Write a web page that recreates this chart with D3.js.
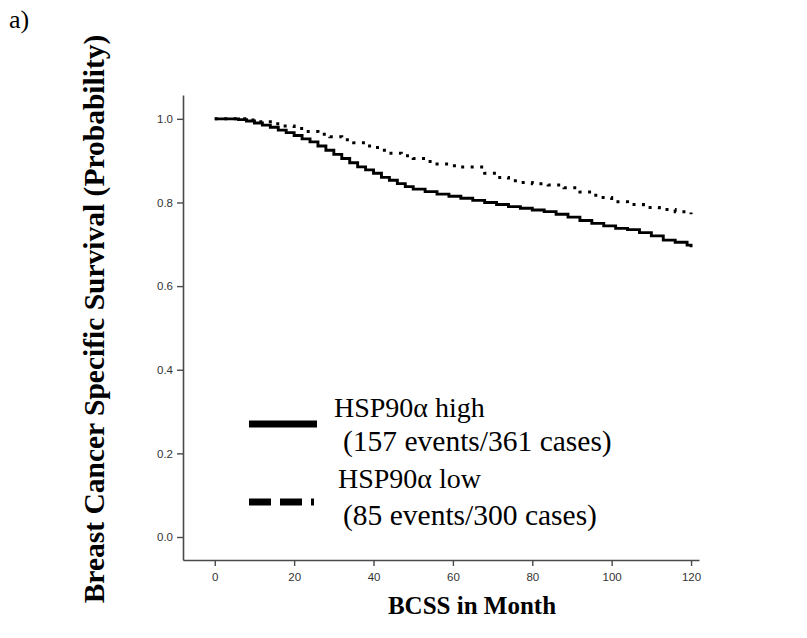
<!DOCTYPE html>
<html>
<head>
<meta charset="utf-8">
<script src="https://cdn.jsdelivr.net/npm/d3@7"></script>
<style>
  html, body { margin: 0; padding: 0; background: #fff; }
  svg { display: block; }
</style>
</head>
<body>
<svg id="chart" width="807" height="638"></svg>
<script>
// ---- data ----
const highTimes = [0, 3, 6, 8, 10, 12, 14, 16, 18, 20, 22, 24, 26, 28, 30, 32, 34, 36, 38, 40, 42, 44, 46, 48, 50, 53, 56, 59, 62, 65, 68, 71, 74, 77, 80, 83, 86, 89, 92, 95, 98, 101, 104, 107, 110, 113, 116, 119, 120];
const highSurv  = [1.0, 1.0, 0.998, 0.995, 0.99, 0.985, 0.98, 0.973, 0.967, 0.96, 0.952, 0.945, 0.935, 0.925, 0.915, 0.905, 0.895, 0.885, 0.878, 0.87, 0.86, 0.853, 0.845, 0.838, 0.832, 0.826, 0.82, 0.815, 0.81, 0.805, 0.8, 0.795, 0.79, 0.786, 0.782, 0.778, 0.772, 0.765, 0.757, 0.75, 0.744, 0.738, 0.735, 0.728, 0.72, 0.71, 0.705, 0.698, 0.693];
const lowTimes  = [0, 4, 8, 11, 14, 17, 20, 23, 26, 29, 32, 35, 38, 41, 44, 47, 50, 53, 56, 59, 62, 65, 68, 71, 74, 77, 80, 84, 88, 92, 96, 100, 104, 108, 112, 116, 120];
const lowSurv   = [1.0, 1.0, 0.997, 0.993, 0.988, 0.983, 0.977, 0.97, 0.963, 0.957, 0.95, 0.943, 0.935, 0.925, 0.918, 0.912, 0.905, 0.898, 0.892, 0.888, 0.885, 0.885, 0.87, 0.86, 0.852, 0.848, 0.845, 0.842, 0.835, 0.825, 0.812, 0.802, 0.795, 0.788, 0.783, 0.778, 0.772];
const xTicks = [0, 20, 40, 60, 80, 100, 120];
const yTicks = [0.0, 0.2, 0.4, 0.6, 0.8, 1.0];
const legendLabels = ["HSP90\u03b1 high", "(157 events/361 cases)", "HSP90\u03b1 low", "(85 events/300 cases)"];
const panelLabel = "a)";
const xTitle = "BCSS in Month";
const yTitle = "Breast Cancer Specific Survival (Probability)";

// ---- drawing ----
const svg = d3.select("#chart");
const x = d3.scaleLinear().domain([-8, 122]).range([183, 699]);
const y = d3.scaleLinear().domain([-0.055, 1.057]).range([560, 95]);

const axisColor = "#4a4a4a";

// y axis
const gy = svg.append("g").attr("transform", `translate(${x(-8)},0)`)
  .call(d3.axisLeft(y).tickValues(yTicks).tickFormat(d3.format(".1f")).tickSize(6).tickSizeOuter(0));
gy.select(".domain").attr("stroke", axisColor).attr("stroke-width", 1.6);
gy.selectAll(".tick line").attr("stroke", axisColor).attr("stroke-width", 1.4);
gy.selectAll(".tick text").attr("fill", "#333").attr("font-family", "Arial, 'Liberation Sans', sans-serif").attr("font-size", 11.5).attr("dx", "-1");

// x axis
const gx = svg.append("g").attr("transform", `translate(0,${y(-0.055)})`)
  .call(d3.axisBottom(x).tickValues(xTicks).tickFormat(d3.format("d")).tickSize(6).tickSizeOuter(0));
gx.select(".domain").attr("stroke", axisColor).attr("stroke-width", 1.6);
gx.selectAll(".tick line").attr("stroke", axisColor).attr("stroke-width", 1.4);
gx.selectAll(".tick text").attr("fill", "#333").attr("font-family", "Arial, 'Liberation Sans', sans-serif").attr("font-size", 11.5).attr("dy", "1.05em");

// curves
const line = d3.line().x(d => x(d[0])).y(d => y(d[1])).curve(d3.curveStepAfter);
svg.append("path")
  .datum(highTimes.map((t, i) => [t, highSurv[i]]))
  .attr("d", line).attr("fill", "none").attr("stroke", "#000").attr("stroke-width", 2.9);
svg.append("path")
  .datum(lowTimes.map((t, i) => [t, lowSurv[i]]))
  .attr("d", line).attr("fill", "none").attr("stroke", "#000").attr("stroke-width", 3)
  .attr("stroke-dasharray", "3,6.5");

// legend
const serif = "'Liberation Serif', 'Times New Roman', serif";
svg.append("line").attr("x1", 249).attr("x2", 317).attr("y1", 424).attr("y2", 424)
  .attr("stroke", "#000").attr("stroke-width", 7);
svg.append("line").attr("x1", 249).attr("x2", 317).attr("y1", 502).attr("y2", 502)
  .attr("stroke", "#000").attr("stroke-width", 7).attr("stroke-dasharray", "22,9,22,9,3,20");
const lg = [[334, 417, 28], [343, 451, 29.5], [338, 488, 28], [343, 525, 29.5]];
svg.selectAll("text.leg").data(legendLabels).enter().append("text")
  .attr("class", "leg")
  .attr("x", (d, i) => lg[i][0]).attr("y", (d, i) => lg[i][1])
  .attr("font-family", serif).attr("font-size", (d, i) => lg[i][2]).attr("fill", "#000")
  .text(d => d);

// titles
svg.append("text").attr("x", 9).attr("y", 28).attr("font-family", serif).attr("font-size", 26).text(panelLabel);
svg.append("text").attr("x", 472).attr("y", 614).attr("text-anchor", "middle")
  .attr("font-family", serif).attr("font-weight", "bold").attr("font-size", 25).text(xTitle);
svg.append("text").attr("transform", "translate(104,319) rotate(-90)").attr("text-anchor", "middle")
  .attr("font-family", serif).attr("font-weight", "bold").attr("font-size", 29.5).text(yTitle);
</script>
</body>
</html>
